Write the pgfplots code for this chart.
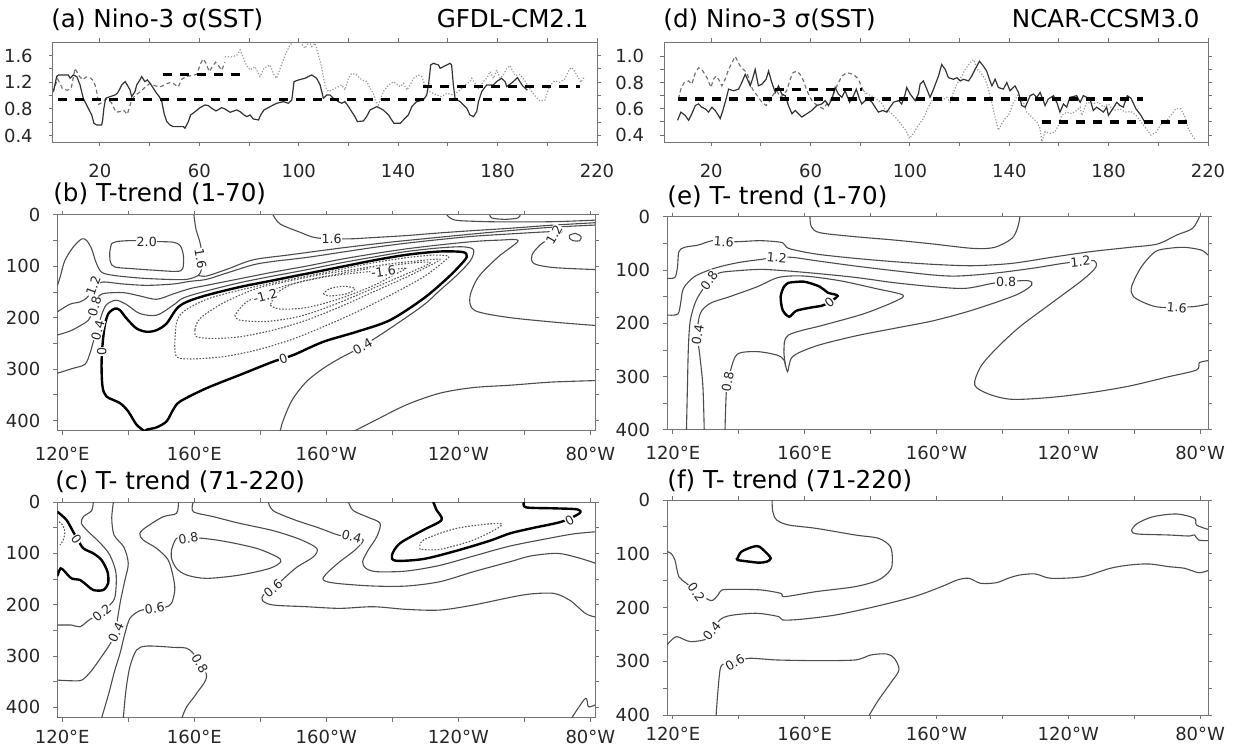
\documentclass[border=0pt]{standalone}
\usepackage{fontspec}
\setmainfont{DejaVu Sans}
\usepackage{pgfplots}
\pgfplotsset{compat=1.18}
\begin{document}
\begin{tikzpicture}[x=1pt,y=1pt]
\useasboundingbox (0pt,0pt) rectangle (617.5pt,374pt);
\pgfplotsset{
 base/.style={scale only axis, anchor=south west, axis line style={black!55, line width=0.5pt},
   tick align=outside, tick pos=both, major tick length=2pt, minor tick length=2pt,
   tick style={black!55, line width=0.5pt},
   tick label style={font=\fontsize{9}{10.5}\selectfont, text=black!85, inner sep=0.8pt},
   clip=true},
 ts/.style={base, xmin=1, xmax=220, xtick={20,60,100,140,180,220}, xticklabels={20,60,100,140,180,220},
   minor xtick={40,80,120,160,200}, xticklabel style={yshift=-8pt}, yticklabel style={xshift=-7pt}},
 ct/.style={base, y dir=reverse, xtick={120,160,200,240,280}, xticklabels={120°E,160°E,160°W,120°W,80°W},
   minor xtick={140,180,220,260}, ytick={0,100,200,300,400}, yticklabels={0,100,200,300,400},
   minor ytick={50,150,250,350}, xticklabel style={yshift=-5pt}, yticklabel style={xshift=-5.5pt}},
 sol/.style={black!80, line width=0.6pt},
 dsh/.style={black!55, line width=0.6pt, dash pattern=on 2pt off 1.5pt},
 dot/.style={black!40, line width=0.6pt, dash pattern=on 0.6pt off 0.9pt},
 mean/.style={black, line width=1.6pt, dash pattern=on 4.5pt off 4pt},
 cl/.style={black!70, line width=0.55pt, smooth, tension=0.5},
 cz/.style={black, line width=1.2pt, smooth, tension=0.5},
 cn/.style={black!65, line width=0.55pt, dash pattern=on 0.8pt off 0.8pt, smooth, tension=0.5},
}
\tikzset{clab/.style={fill=white, inner sep=0.3pt, font=\fontsize{6.3}{7}\selectfont, text=black!85},
 ttl/.style={font=\fontsize{12.3}{14}\selectfont, inner sep=0pt}}

% ---------------- (a) ----------------
\begin{axis}[ts, at={(26.35pt,302.85pt)}, width=272.15pt, height=50pt, ymin=0.3, ymax=1.8,
  ytick={0.4,0.8,1.2,1.6}, yticklabels={0.4,0.8,1.2,1.6}, minor ytick={0.6,1.0,1.4}]
\addplot[dsh] coordinates {(1,1.05)(3,1.25)(5,1.1)(7,1.08)(8.5,1.12)(10,1.41)(11.5,1.3)(13,1.24)(14.5,1.28)(16,1.27)(17.5,1.22)(18.5,1.1)(19.5,0.87)(21,0.90)(22.5,0.95)(24.5,0.9)(26.5,0.75)(28,0.76)(29.5,0.78)(31,0.72)(32.5,0.9)(34,1.0)(36,1.05)(38,1.12)(40,1.18)(42,1.15)(44,1.13)(45.5,1.15)(47,1.18)(48.5,1.2)(50,1.17)(51.5,1.13)(53,1.25)(55,1.29)(57,1.3)(59,1.32)(60.5,1.48)(61.5,1.55)(62.5,1.5)(64,1.36)(65.5,1.45)(66.5,1.5)(67.5,1.46)(69,1.38)(70.3,1.5)};
\addplot[dot] coordinates {(70.3,1.585)(72.4,1.58)(75.0,1.60)(76.4,1.685)(78.9,1.46)(80.4,1.385)(82.4,1.435)(84.4,1.285)(86.0,1.41)(88.4,1.46)(90.1,1.31)(91.1,1.26)(94.5,1.61)(96.5,1.76)(98.5,1.835)(100.5,1.81)(102.5,1.71)(104.3,1.81)(105.2,1.735)(106.6,1.785)(107.9,1.61)(109.3,1.41)(110.6,1.135)(112.0,1.06)(114.6,1.11)(117.3,1.16)(118.6,1.085)(120.0,1.26)(121.3,1.335)(123.3,1.31)(125.4,1.235)(127.4,1.21)(128.7,1.11)(130.0,1.035)(131.1,0.91)(132.0,0.86)(134.0,1.06)(136.1,1.16)(138.1,1.21)(140.8,1.135)(142.1,1.185)(143.5,1.085)(144.8,1.16)(146.2,1.26)(148.1,1.31)(149.5,1.285)(150.8,1.16)(151.5,1.085)(155.5,1.01)(157.5,0.985)(159.6,1.035)(162.2,1.01)(164.9,1.085)(166.9,1.16)(168.9,1.21)(169.6,1.26)(170.9,1.185)(172.3,1.11)(174.3,1.21)(175.6,1.26)(177.0,1.36)(178.3,1.26)(179.6,1.385)(181.0,1.26)(182.3,1.31)(183.7,1.41)(185,1.45)(187,1.3)(189,1.32)(191,1.22)(193,1.1)(195,1.0)(197,0.92)(199,0.93)(201,1.15)(203,1.22)(205,1.2)(207,1.25)(209,1.4)(210,1.42)(212,1.3)(213.5,1.2)(215,1.28)};
\addplot[sol] coordinates {(1.3,1.06)(2.6,1.285)(3.3,1.31)(7.3,1.31)(8.0,1.26)(9.3,1.31)(10.7,1.285)(12.0,1.16)(13.3,0.96)(15.3,0.81)(16.7,0.71)(17.6,0.585)(18.7,0.56)(20.7,0.56)(21.1,0.635)(21.6,0.81)(22.3,0.96)(24.1,0.985)(26.1,1.01)(27.0,1.035)(27.8,1.085)(28.8,1.16)(30.1,1.21)(31.0,1.16)(32.1,1.085)(32.8,0.985)(34.1,1.06)(34.8,1.16)(36.1,1.235)(36.8,1.285)(38.1,1.21)(39.1,1.235)(40.2,1.185)(41.5,1.11)(42.8,1.035)(43.9,0.985)(44.9,0.91)(45.8,0.735)(46.9,0.61)(48.2,0.56)(49.5,0.535)(53.6,0.535)(54.2,0.51)(55.6,0.61)(56.5,0.71)(58.3,0.76)(60.3,0.82)(62.3,0.86)(63.6,0.85)(65.0,0.81)(66.7,0.77)(69.0,0.82)(70.3,0.80)(72.4,0.75)(75.0,0.785)(76.4,0.76)(78.0,0.71)(79.1,0.685)(80.4,0.71)(81.7,0.65)(83.8,0.635)(84.7,0.71)(86.0,0.785)(88.5,0.835)(91.1,0.885)(93.8,0.91)(95.8,0.885)(97.2,0.935)(98.1,1.21)(99.9,1.235)(102.5,1.26)(105.2,1.31)(107.2,1.26)(108.6,1.16)(109.9,0.96)(111.3,1.01)(112.6,1.01)(113.9,0.96)(115.9,0.91)(117.3,0.885)(118.6,0.91)(120.0,0.835)(121.3,0.76)(122.6,0.685)(123.6,0.61)(126.0,0.62)(127.3,0.685)(128.7,0.785)(131.4,0.835)(134.0,0.785)(136.1,0.71)(137.4,0.635)(138.3,0.585)(140.8,0.585)(142.1,0.635)(144.1,0.71)(145.5,0.835)(147.4,0.91)(150.1,0.935)(151.5,1.01)(152.2,1.16)(153.1,1.46)(154.2,1.485)(156.2,1.46)(156.9,1.41)(158.2,1.435)(160.9,1.485)(161.5,1.46)(162.2,1.16)(162.9,0.96)(164.9,0.91)(166.3,0.86)(167.6,0.81)(168.9,0.71)(170.3,0.685)(171.6,0.76)(172.3,0.91)(173.6,1.06)(175.6,1.16)(178.3,1.16)(179.6,1.21)(181.6,1.26)(183.0,1.21)(183.7,1.135)(186,1.2)(188,1.27)(190,1.15)(192,1.08)};
\addplot[mean] coordinates {(3.3,0.945)(192,0.945)};
\addplot[mean] coordinates {(45.5,1.32)(78.4,1.32)};
\addplot[mean] coordinates {(150,1.135)(213,1.135)};
\end{axis}
\node[ttl, anchor=base west] at (25.5pt,360pt) {(a) Nino-3 σ(SST)};
\node[ttl, anchor=base east] at (294.5pt,360pt) {GFDL-CM2.1};

% ---------------- (d) ----------------
\begin{axis}[ts, at={(332pt,302.85pt)}, width=272pt, height=50pt, ymin=0.345, ymax=1.107,
  ytick={0.4,0.6,0.8,1.0}, yticklabels={0.4,0.6,0.8,1.0}, minor ytick={0.5,0.7,0.9}]
\addplot[dsh] coordinates {(6.8,0.675)(7.8,0.75)(9.1,0.8)(10.9,0.8125)(12.2,0.7875)(13.6,0.875)(14.9,0.9125)(16.2,0.9)(18.3,0.8375)(19.9,0.7625)(20.9,0.825)(22.0,0.85)(23.4,0.8125)(24.3,0.775)(25.6,0.825)(27.0,0.9)(28.3,0.95)(29.7,1.0)(30.6,0.9625)(31.7,0.925)(32.3,0.9125)(33.7,0.8875)(34.6,0.8625)(35.7,0.7875)(37.0,0.7375)(38.1,0.7125)(39.0,0.6875)(40.4,0.65)(42.1,0.625)(43.7,0.6625)(45.1,0.7125)(46.4,0.7375)(47.8,0.6875)(49.4,0.7125)(50.4,0.7375)(51.8,0.825)(52.9,0.875)(54.5,0.8875)(55.8,0.8625)(57.2,0.8125)(58.5,0.7375)(60.5,0.6625)(61.9,0.6375)(63.9,0.6125)(65.2,0.6)(66.5,0.6375)(67.9,0.6625)(69.2,0.7125)(70.6,0.775)(72.6,0.85)(74.6,0.875)(77.3,0.8625)(79.3,0.825)(80.6,0.7625)(82.0,0.7125)};
\addplot[dot] coordinates {(80.6,0.75)(83.0,0.7125)(85.6,0.6875)(88.3,0.65)(90.3,0.5875)(92.0,0.575)(94.7,0.525)(96.7,0.475)(98.7,0.425)(99.8,0.375)(101.4,0.4125)(103.4,0.475)(105.4,0.525)(106.8,0.5875)(108.8,0.6625)(110.8,0.6875)(112.8,0.6625)(114.8,0.6875)(116.2,0.65)(117.5,0.725)(118.9,0.7875)(120.9,0.85)(122.2,0.9)(124.2,0.95)(125.6,0.975)(127.2,0.9)(128.5,0.875)(130.3,0.825)(131.6,0.75)(132.9,0.65)(134.3,0.5375)(135.6,0.4375)(137.0,0.4875)(138.3,0.525)(139.7,0.55)(141.7,0.65)(143.7,0.7125)(145.7,0.65)(147.0,0.575)(148.4,0.55)(149.7,0.525)(151.1,0.5)(152.4,0.45)(153.1,0.35)(154.4,0.425)(156.4,0.4125)(158.4,0.425)(159.8,0.475)(161.1,0.55)(163.1,0.575)(165.1,0.5625)(167.1,0.5875)(168.5,0.6125)(169.2,0.55)(171.2,0.65)(173.8,0.6375)(175.9,0.65)(177.9,0.6125)(179.9,0.6375)(181.9,0.5875)(184.6,0.6)(186.6,0.575)(189,0.58)(191,0.55)(193,0.5)(195,0.45)(197,0.4)(199,0.42)(201,0.48)(203,0.5)(205,0.55)(207,0.6)(209,0.6)(210.5,0.55)(212,0.45)(213.5,0.4)(215,0.36)};
\addplot[sol] coordinates {(6.45,0.5125)(7.8,0.575)(9.5,0.55)(10.9,0.5125)(12.2,0.5625)(13.6,0.625)(14.9,0.6375)(16.2,0.6125)(17.6,0.60)(18.9,0.575)(20.3,0.6125)(21.6,0.5875)(22.9,0.55)(23.6,0.525)(24.7,0.5875)(26.0,0.675)(27.0,0.75)(29.0,0.7375)(31.0,0.75)(32.3,0.80)(33.7,0.8625)(34.6,0.825)(35.7,0.775)(36.8,0.8375)(37.7,0.90)(39.0,0.775)(40.4,0.7875)(42.1,0.825)(43.1,0.8875)(44.4,0.80)(45.8,0.725)(47.1,0.775)(48.4,0.7125)(49.8,0.70)(51.1,0.625)(52.5,0.5625)(53.8,0.5875)(55.1,0.5625)(56.5,0.5375)(58.5,0.5625)(60.5,0.5875)(62.5,0.625)(64.5,0.6375)(65.9,0.6625)(67.2,0.625)(68.6,0.675)(69.9,0.7625)(71.2,0.7125)(72.6,0.6875)(73.9,0.7375)(75.7,0.65)(77.3,0.70)(78.4,0.75)(79.7,0.675)(80.6,0.6375)(82.0,0.6625)(83.3,0.675)(84.7,0.65)(86.0,0.6125)(87.3,0.575)(89.1,0.5875)(90.7,0.575)(92.0,0.6125)(93.4,0.65)(95.4,0.6625)(96.7,0.6375)(98.1,0.7125)(98.7,0.7625)(100.1,0.7125)(102.1,0.6625)(103.4,0.7125)(104.1,0.7875)(105.4,0.8125)(106.8,0.75)(108.1,0.6875)(109.5,0.75)(111.5,0.85)(112.8,0.9375)(114.2,0.90)(115.5,0.8375)(117.5,0.825)(118.9,0.8375)(120.2,0.8125)(121.6,0.825)(123.6,0.8125)(124.9,0.85)(126.2,0.90)(128.0,0.9625)(129.6,0.925)(130.9,0.8875)(132.0,0.825)(133.0,0.775)(134.3,0.825)(135.6,0.7625)(137.6,0.75)(139.0,0.80)(140.3,0.7375)(142.3,0.775)(143.7,0.725)(145.0,0.625)(146.4,0.6125)(148.4,0.70)(149.7,0.7125)(151.1,0.6875)(152.4,0.725)(153.7,0.6625)(154.4,0.625)(155.7,0.675)(157.8,0.70)(159.1,0.65)(160.4,0.575)(161.8,0.6375)(163.1,0.6125)(164.4,0.6875)(167.1,0.70)(168.5,0.65)(169.8,0.70)(172.5,0.675)(173.8,0.5875)(175.2,0.6125)(177.9,0.575)(179.2,0.6125)(179.9,0.55)(181.2,0.5875)(183.3,0.65)(184.6,0.625)(185.9,0.6125)(187.5,0.70)(189,0.68)(191,0.6)(193,0.55)(194.5,0.5)};
\addplot[mean] coordinates {(6.8,0.675)(194,0.675)};
\addplot[mean] coordinates {(45.5,0.75)(80.6,0.75)};
\addplot[mean] coordinates {(153,0.5)(212,0.5)};
\end{axis}
\node[ttl, anchor=base west] at (331.5pt,360pt) {(d) Nino-3 σ(SST)};
\node[ttl, anchor=base east] at (600pt,360pt) {NCAR-CCSM3.0};

% ---------------- (b) ----------------
\begin{axis}[ct, at={(28.65pt,158.5pt)}, width=268.85pt, height=108pt, xmin=118.5, xmax=281.4, ymin=0, ymax=420]
\addplot[cl] coordinates {(159.9,0)(160.5,27.1)(161.7,52.9)(162.4,78.7)(162.2,104.5)(161.2,117.4)(157.7,125.2)(151.6,125.2)(143.5,122.6)(135.5,117.4)(131.9,111.0)(130.2,91.6)(128.9,65.8)(127.4,49.7)(125.9,46.5)(123.3,62.6)(120.8,88.4)(119.5,117.4)(118.5,138)};
\addplot[cl] coordinates {(161.2,117.4)(163.7,118.7)(169.8,105.8)(177.9,87.1)(189.0,77.4)(204.1,64.5)(219.3,52.9)(234.4,43.2)(244.6,36.8)(255.7,30.3)(268,24)(281.5,19.5)};
\addplot[cl] coordinates {(183.9,0)(186.0,17.4)(192.0,33.5)(197.1,44.5)(206.2,46.5)(214.2,43.9)(224.3,40.0)(234.4,34.8)(244.6,30.3)(255.7,25.8)(268,20)(281.5,15)};
\addplot[cl] coordinates {(236.5,0)(238.9,9.8)(246,12.5)(255,13.5)(268.9,13.0)(281.5,10)};
\addplot[cl] coordinates {(249.5,0)(250.2,6)(254,8.5)(258,6)(258.7,0)};
\addplot[cl] coordinates {(273.7,39.1)(275.5,35.8)(277.2,42.3)(276.7,50.1)(274.9,50.1)(273.7,45.6)(273.7,39.1)};
\addplot[cl] coordinates {(134.9,56.1)(136.5,51.6)(141.5,49.7)(148.6,51.6)(153.6,52.9)(155.7,59.4)(156.7,78.7)(156.5,104.5)(154.6,109.7)(148.6,107.7)(141.5,104.5)(136.0,101.3)(134.6,91.6)(134.4,72.3)(134.9,56.1)};
\addplot[cl] coordinates {(118.5,188.4)(122.3,173.5)(125.4,169.0)(127.4,161.3)(128.9,148.4)(130.2,136.8)(132.4,130.3)(138.5,134.2)(145.6,136.8)(153.6,134.2)(158.7,129.0)(163.7,125.2)(169.8,112.9)(177.9,96.8)(183.9,90.3)(194.0,82.6)(204.1,72.9)(214.2,63.2)(224.3,54.8)(234.4,47.7)(244.6,41.3)(255.7,36.8)(266,33)(271.3,32.6)(267.7,45.6)(264.7,58.6)(262.3,78.1)(262.9,94.4)(268.9,102.2)(281.5,106.1)};
\addplot[cl] coordinates {(118.5,233.5)(122.3,225.8)(125.4,215.5)(127.9,204.5)(129.2,187.1)(130.4,163.9)(132.4,152.9)(138.5,151.0)(143.5,157.4)(148.6,163.9)(153.6,153.5)(158.7,143.2)(163.7,136.8)(173.8,123.9)(183.9,111.0)(194.0,99.4)(204.1,86.5)(214.2,75.5)(224.3,65.8)(234.4,58.1)(244.6,51.6)(252,49)(258.1,50)(252.1,81.4)(246.1,120.4)(243.5,159.5)(244.9,185.5)(254.5,198.6)(268.9,208.3)(281.5,214.8)};
\addplot[cl] coordinates {(118.5,307.7)(123.3,298.1)(126.9,290.3)(128.4,269.0)(129.4,246.5)(130.6,223.9)(131.9,194.8)(133.4,174.2)(136.3,165.8)(139.5,174.2)(143.5,191.6)(148.6,194.8)(153.6,175.5)(156.7,161.3)(163.7,147.7)(173.8,131.6)(183.9,118.7)(194.0,106.5)(204.1,93.5)(214.2,81.9)(224.3,71.0)(234.4,63.9)(241.5,61.9)(244.6,67.7)(243.7,88.4)(239.5,117.4)(234.4,146.5)(229.4,175.5)(219.3,220.6)(210.7,256.1)(204.1,278.7)(199.1,298.1)(194.0,323.9)(190.0,356.1)(188.0,382.0)(186.5,407.7)(186.0,421)};
\addplot[cl] coordinates {(208.2,421)(214.2,401.3)(224.3,369.0)(234.4,346.5)(244.6,335.5)(255.7,331)(268,325)(281.5,322)};
\addplot[cz] coordinates {(145.1,421)(142.5,407.7)(140.0,382.0)(137.5,365.8)(133.4,352.9)(132.2,333.5)(131.9,291.6)(132.2,252.9)(132.9,214.2)(134.0,191.6)(136.0,181.9)(137.5,185.2)(139.5,201.3)(142.5,220.6)(145.6,227.1)(148.6,223.9)(151.6,211.0)(154.7,181.9)(157.7,169.0)(163.7,156.1)(173.8,140.0)(183.9,127.1)(194.0,114.2)(204.1,101.3)(214.2,88.4)(224.3,77.4)(234.4,71.0)(241.5,72.3)(242.5,81.9)(240.5,98.1)(236.5,123.9)(229.4,162.6)(219.3,204.5)(209.2,227.1)(199.1,246.5)(190.0,272.3)(183.9,285.2)(173.8,311.0)(163.7,336.8)(155.7,362.6)(153.6,378.7)(151.6,401.3)(148.6,412.9)(145.6,417.4)(145.1,421)};
\addplot[cn] coordinates {(154.1,252.9)(154.6,275.5)(158.7,280.0)(168.8,275.5)(178.9,262.6)(189.0,243.2)(199.1,217.4)(209.2,188.4)(219.3,156.1)(229.4,120.6)(236.0,88.4)(237.0,80)(232.4,78)(224.3,83)(214.2,93)(204.1,106)(194.0,119)(183.9,132)(173.8,146)(163.7,164)(156.7,188)(154.6,210)(154.1,252.9)};
\addplot[cn] coordinates {(160.2,223.9)(160.7,236.8)(165.8,240.0)(173.8,236.8)(183.9,223.9)(194.0,204.5)(204.1,178.7)(214.2,149.7)(224.3,120.6)(232.4,94.8)(234.4,86)(229.4,88)(219.3,95)(209.2,105)(199.1,115)(189.0,128)(178.9,143)(168.8,171)(161.7,201.3)(160.2,223.9)};
\addplot[cn] coordinates {(172.3,194.8)(173.8,204.5)(181.9,207)(192.0,197)(202.1,175)(212.2,148)(222.3,120)(229.5,100)(231.4,92)(226.4,93)(214.2,103)(204.1,114)(194.0,127)(183.9,145)(175.9,169.0)(172.3,194.8)};
\addplot[cn] coordinates {(183,175.5)(186,183)(194,180)(204,163)(214,138)(220,118)(224,104)(220,106)(210,112)(200,120)(190,134)(185,152)(183,175.5)};
\addplot[cn] coordinates {(199.1,152.9)(201.1,157.4)(206.2,152.9)(208.7,143.2)(205.2,138.7)(201.1,143.2)(199.1,152.9)};
\node[clab] at (axis cs:145.6,52) {2.0};
\node[clab, rotate=-80] at (axis cs:161.9,85) {1.6};
\node[clab] at (axis cs:201.6,46) {1.6};
\node[clab, rotate=70] at (axis cs:129.4,138) {1.2};
\node[clab, rotate=75] at (axis cs:129.8,178) {0.8};
\node[clab, rotate=75] at (axis cs:130.8,224) {0.4};
\node[clab, rotate=90] at (axis cs:132.0,265) {0};
\node[clab, rotate=20] at (axis cs:187.0,279) {0};
\node[clab, rotate=30] at (axis cs:211.0,255) {0.4};
\node[clab, rotate=15] at (axis cs:181.5,158) {-1.2};
\node[clab, rotate=8] at (axis cs:217.3,110) {-1.6};
\node[clab, rotate=60] at (axis cs:269.0,38) {1.2};
\end{axis}
\node[ttl, anchor=base west] at (26.5pt,273.15pt) {(b) T-trend (1-70)};

% ---------------- (c) ----------------
\begin{axis}[ct, at={(28.65pt,15.15pt)}, width=268.85pt, height=107.85pt, xmin=118.5, xmax=281.4, ymin=0, ymax=420,
  xticklabel style={yshift=2pt}]
\addplot[cl] coordinates {(129.4,0)(128.9,16.9)(126.4,28.6)(125.8,41.6)(127.9,57.8)(131.4,79.2)(134.4,103.2)(136.3,139.0)(136.0,184.4)(134.4,200.6)(132.4,213.6)(128.4,228.6)(125.4,242.9)(122.8,239.6)(118.5,239.6)};
\addplot[cl] coordinates {(135.5,0)(135.0,31.8)(135.7,64.3)(138.7,88.3)(140.0,119.5)(139.0,151.9)(137.7,190.9)(136.7,229.9)(136.3,252.6)(134.6,275.3)(131.9,301.3)(128.6,330.5)(125.9,346.8)(122.8,348.1)(118.5,346.8)};
\addplot[cl] coordinates {(155.2,0)(154.6,22.1)(150.6,28.6)(145.6,48.1)(143.5,61.0)(144.5,74.0)(148.6,90.3)(152.1,113.0)(153.6,145.5)(154.1,171.4)(153.1,197.4)(151.1,205.2)(147.6,207.1)(143.5,211.7)(140.5,226.6)(139.0,255.8)(137.5,294.8)(135.8,330.5)(134.1,372.7)(131.9,421)};
\addplot[cl] coordinates {(138.5,421)(139.3,366.2)(140.5,320.8)(142.5,288.3)(145.6,280.5)(153.6,283.1)(158.7,288.3)(163.7,337.0)(160.7,372.7)(157.7,398.7)(156.2,421)};
\addplot[cl] coordinates {(153.1,93.5)(154.6,70.8)(158.2,70)(162.7,70.8)(169.8,77.3)(178.9,90.3)(185.0,106.5)(186.2,116.2)(182.9,129.2)(173.8,142.2)(163.7,148.7)(157.7,142.2)(154.6,129.2)(153.1,109.7)(153.1,93.5)};
\addplot[cl] coordinates {(159.7,0)(159.7,18.8)(165.8,28.6)(173.8,41.6)(183.9,55.8)(192.0,72.7)(197.1,90.3)(196.1,106.5)(191.0,127.3)(187.5,146.8)(183.9,168.2)(180.9,181.2)(180.7,192.2)(183.9,200.6)(194.0,203.9)(204.1,207.1)(214.2,203.9)(224.3,209.1)(234.4,210.4)(244.6,200.6)(255.7,185.7)(262,179)(268.9,178)(273.7,191)(278.5,217)(281.5,224)};
\addplot[cl] coordinates {(182.4,0)(183.9,16.9)(190.0,33.8)(198.1,51.3)(203.6,64.3)(207.7,67.5)(211.2,74.0)(208.7,93.5)(204.1,116.2)(200.1,139.0)(199.1,151.9)(203.1,158.4)(214.2,163.6)(224.3,163.6)(234.4,155.2)(244.6,135.7)(255.7,116.2)(262,105)(270,100)(276,108)(281.5,119)};
\addplot[cl] coordinates {(206.7,0)(208.2,16.9)(212.7,29.9)(216.3,41.6)(215.3,67.5)(212.7,93.5)(211.0,116.2)(212.0,129.2)(215.3,135.7)(224.3,134.4)(234.4,123.4)(244.6,105.2)(255.7,85.7)(268,70)(275,62)(281.5,58)};
\addplot[cl] coordinates {(274.3,421)(278.5,382.4)(279.4,398.6)(281.5,395)};
\addplot[cz] coordinates {(118.5,18.8)(121.3,35.1)(123.3,57.8)(124.8,74.0)(126.4,90.3)(129.4,100.0)(131.9,113.0)(133.7,135.7)(133.9,158.4)(132.4,171.4)(129.4,171.4)(127.4,161.7)(125.4,151.9)(122.8,148.7)(120.8,135.7)(119.5,129.2)(118.5,144.2)};
\addplot[cz] coordinates {(232.4,0)(233.4,15.6)(234.9,35.1)(229.4,54.5)(222.3,80.5)(219.9,103.2)(221.0,114.3)(229.4,111.0)(239.5,94.8)(249.6,75.3)(255.7,61.0)(263,50)(271.3,38.3)(276.7,22.1)(275.9,14.3)(268.9,12.3)(260.5,10.4)(259.9,0)};
\addplot[cn] coordinates {(119.0,38.3)(120.1,44.8)(120.8,57.8)(120.3,74.0)(119.3,83.8)};
\addplot[cn] coordinates {(228.4,92.2)(229.4,74.0)(239.5,51.3)(251.6,41.6)(252.6,48.1)(244.6,74.0)(234.4,92.2)(228.4,92.2)};
\node[clab, rotate=-55] at (axis cs:124.3,72.7) {0};
\node[clab, rotate=40] at (axis cs:132.0,216) {0.2};
\node[clab, rotate=65] at (axis cs:136.3,254) {0.4};
\node[clab, rotate=10] at (axis cs:148.0,207.1) {0.6};
\node[clab, rotate=10] at (axis cs:158.2,70.8) {0.8};
\node[clab, rotate=40] at (axis cs:183.9,168.2) {0.6};
\node[clab, rotate=-15] at (axis cs:207.7,67.5) {0.4};
\node[clab, rotate=30] at (axis cs:273.7,35.1) {0};
\node[clab, rotate=-60] at (axis cs:161.7,314.3) {0.8};
\end{axis}
\node[ttl, anchor=base west] at (27.5pt,129pt) {(c) T- trend (71-220)};

% ---------------- (e) ----------------
\begin{axis}[ct, at={(333.5pt,159pt)}, width=270.5pt, height=106.65pt, xmin=118.2, xmax=282.4, ymin=0, ymax=400]
\addplot[cl] coordinates {(161.6,0)(162.0,18.8)(164.6,30)(175.3,37.5)(187.2,43.8)(199.1,51.3)(211.0,59.4)(217.6,57.5)(222.9,40.6)(224.7,18.8)(225.3,0)};
\addplot[cl] coordinates {(118.2,115.6)(120.6,113.8)(121.4,93.8)(121.8,65.6)(123.5,57.5)(127.7,53.1)(131.9,45)(135.4,47)(139.6,46.9)(146.8,45)(153.3,48.8)(155.1,59.4)(163.4,70)(175.3,78.1)(187.2,84.4)(199.1,89.4)(211.0,91.9)(222.9,87.5)(234.8,76.3)(246.7,65.6)(258.6,57.5)(267.0,51.3)(272.9,34.4)(277.7,21.9)(279.8,0)};
\addplot[cl] coordinates {(282.4,71.9)(280.3,62.5)(275.3,57.5)(270.5,59.4)(266.4,65.6)(262.2,93.8)(259.2,131.3)(259.8,150)(264.0,163.8)(268.2,170)(277.7,168.8)(282.4,163.8)};
\addplot[cl] coordinates {(118.2,184.4)(121.5,182.5)(122.4,159.4)(123.2,134.4)(126.5,112.5)(132.5,96.9)(139.6,86.3)(146.8,80)(151.5,76)(156.3,76.3)(163.4,82.5)(175.3,92.5)(187.2,101.3)(199.1,109.4)(206.3,111.3)(217.0,106.3)(228.9,96.9)(238.4,87.5)(243.7,84)(247.9,82.5)(248.3,95)(244.3,118.8)(234.8,162.5)(225.3,206.3)(218.2,246.9)(213.4,281.3)(211.6,315.6)(215.8,332.5)(222.9,342.5)(234.8,338.8)(246.7,330)(258.6,317.5)(270.5,300)(278.9,287.5)(279.8,273.8)(282.4,270)};
\addplot[cl] coordinates {(124.1,401)(124.4,318.8)(124.7,243.8)(125.3,193.8)(127.1,156.3)(130.1,128.1)(133.7,106.3)(139.6,101.3)(146.8,98.8)(153.9,101.3)(163.4,106.3)(175.3,113.8)(187.2,123.8)(199.1,131.3)(208.7,134.4)(217.0,125)(221.1,122)(227.7,120)(228.9,128.1)(224.1,146.9)(211.0,175)(199.1,195)(187.2,209.4)(175.3,223.8)(163.4,242.5)(156.3,262.5)(154.8,290.6)(153.7,268.8)(151.5,259.4)(145.6,253.1)(139.6,257.5)(137.5,287.5)(136.3,318.8)(135.8,401)};
\addplot[cl] coordinates {(129.5,401)(129.1,318.8)(128.2,262.5)(127.4,218.8)(128.3,181.3)(131.3,162.5)(137.2,150)(145.6,131.3)(152.1,113.8)(159.8,111.3)(170.6,120)(181.3,134.4)(189.8,146.9)(187.2,159.4)(177.7,182.5)(165.8,203.1)(155.1,221.9)(153.7,250)(154.2,281.3)};
\addplot[cz] coordinates {(155.1,123.8)(159.8,121.9)(164.6,131.3)(167.0,142.5)(170.0,148.8)(165.8,165.6)(162.2,170)(157.5,176.3)(155.3,187.5)(153.3,175)(152.7,150)(153.7,131.3)(155.1,123.8)};
\node[clab, rotate=-5] at (axis cs:135.4,47) {1.6};
\node[clab, rotate=-5] at (axis cs:151.5,76) {1.2};
\node[clab, rotate=5] at (axis cs:243.7,84) {1.2};
\node[clab, rotate=55] at (axis cs:131.0,120) {0.8};
\node[clab] at (axis cs:221.1,122) {0.8};
\node[clab, rotate=40] at (axis cs:167.5,160) {0};
\node[clab, rotate=80] at (axis cs:127.5,222) {0.4};
\node[clab, rotate=80] at (axis cs:136.6,309) {0.8};
\node[clab, rotate=-5] at (axis cs:272.9,170) {1.6};
\end{axis}
\node[ttl, anchor=base west] at (333.5pt,271.5pt) {(e) T- trend (1-70)};

% ---------------- (f) ----------------
\begin{axis}[ct, at={(333.5pt,16.5pt)}, width=270.5pt, height=107.5pt, xmin=118.2, xmax=282.4, ymin=0, ymax=400,
  xticklabel style={yshift=2pt}]
\addplot[cl] coordinates {(150.1,0)(150.3,21.7)(151.5,37.2)(155.1,46.5)(163.4,52.7)(175.3,65.1)(182.4,71.3)(186.0,86.8)(186.6,111.6)(186.0,130.2)(182.4,148.8)(175.3,161.2)(163.4,170.5)(153.9,179.8)(152.7,173.6)(146.8,167.4)(139.6,166.2)(134.9,167.4)(133.7,176.7)(131.5,187.2)(127.1,170.5)(124.1,155)(121.8,142.6)(120.6,111.6)(119.4,99.2)(118.2,96.1)};
\addplot[cl] coordinates {(282.4,131.4)(279.5,135.2)(275.3,127.1)(270.5,124)(264.6,119)(258.6,120.9)(252.7,127.1)(244.3,142.6)(234.8,145.7)(230.0,137.6)(225.3,139.5)(221.7,145.7)(218.2,153.8)(213.4,155)(209.8,145.7)(206.3,148.8)(201.5,161.2)(193.2,179.8)(181.3,198.4)(169.4,213.9)(158.7,222)(153.3,223.2)(152.1,217)(145.6,210.8)(138.4,213.9)(134.9,220.1)(132.5,235.6)(130.7,257.3)(125.3,263.5)(121.2,254.2)(119.1,263.5)(118.2,269.7)};
\addplot[cl] coordinates {(133.1,401)(134.3,316.2)(136.0,303.8)(139,301)(143.2,294.5)(151.5,297.6)(163.4,298.8)(175.3,297.6)(180.1,288.3)(184.8,286.4)(187.2,294.5)(188.6,316.2)(186.0,341)(182.4,372)(179.5,401)};
\addplot[cl] coordinates {(282.4,54.6)(278.9,46.5)(278.3,34.1)(272.9,26)(265.8,31)(261.0,43.4)(259.2,57)(261.0,63.2)(270.5,65.1)(276.5,67)(278.3,65.1)(279.5,74.4)(282.4,75.6)};
\addplot[cz] coordinates {(139.6,108.5)(140.8,96.1)(144.4,86.8)(146.2,86.8)(148.5,99.2)(149.7,108.5)(148.5,114.7)(146.2,116.6)(143.2,114.7)(139.6,111.6)(139.6,108.5)};
\node[clab, rotate=-55] at (axis cs:127.1,172) {0.2};
\node[clab, rotate=50] at (axis cs:131.8,243) {0.4};
\node[clab, rotate=30] at (axis cs:138.8,302) {0.6};
\end{axis}
\node[ttl, anchor=base west] at (333.5pt,129.85pt) {(f) T- trend (71-220)};
\end{tikzpicture}
\end{document}
